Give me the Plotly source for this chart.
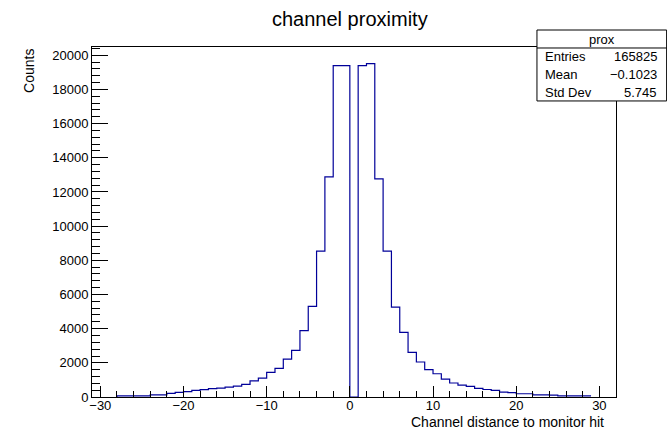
import plotly.graph_objects as go

# ---- data ----
bin_low_edges = list(range(-28, 29))  # bins [k, k+1)
counts = [
    60, 60, 60, 60, 120, 120, 210, 270, 310, 390,      # -28 .. -19
    430, 490, 520, 580, 640, 740, 940, 1110, 1440, 1670,  # -18 .. -9
    2220, 2730, 3880, 5300, 8540, 12880, 19390, 19390,  # -8 .. -1
    0,                                                  # 0
    19390, 19510, 12770, 8540, 5260, 3780, 2610, 2050, 1600, 1360,  # 1 .. 10
    1050, 820, 700, 620, 500, 440, 390, 280, 260, 190,  # 11 .. 20
    190, 130, 130, 115, 60, 60, 60, 60,                 # 21 .. 28
]
stat_labels = ["Entries", "Mean", "Std Dev"]
stat_values = ["165825", "\u22120.1023", "5.745"]
hist_name = "prox"
title_text = "channel proximity"
x_title = "Channel distance to monitor hit"
y_title = "Counts"
x_range = [-31, 32]
y_range = [0, 1.05 * max(counts)]

# ---- geometry helpers (pixels -> paper) ----
W, H = 667, 431
L, R, T, B = 92, 615.7, 47, 397.3


def px(xp):
    return (xp - L) / (R - L)


def py(yp):
    return (B - yp) / (B - T)


FONT = "Liberation Sans, Arial, Helvetica, sans-serif"
BLUE = "#000099"

xs = [bin_low_edges[0]] + bin_low_edges + [bin_low_edges[-1] + 1]
ys = [0] + counts + [counts[-1]]

fig = go.Figure()
fig.add_trace(go.Scatter(
    x=xs, y=ys, mode="lines", line=dict(shape="hv", color=BLUE, width=1.2),
    hoverinfo="skip", showlegend=False,
))

axis_common = dict(
    showline=True, linecolor="black", linewidth=1, mirror=True,
    ticks="inside", tickcolor="black", tickwidth=1,
    showgrid=False, zeroline=False,
    tickfont=dict(family=FONT, size=13, color="black"),
    tickformat="d",
)

fig.update_xaxes(
    range=x_range, tick0=0, dtick=10, ticklen=11, ticklabelstandoff=-4,
    minor=dict(dtick=2, tick0=0, ticklen=6, ticks="inside", tickcolor="black", showgrid=False),
    **axis_common,
)
fig.update_yaxes(
    range=y_range, tick0=0, dtick=2000, ticklen=16,
    minor=dict(dtick=400, tick0=0, ticklen=8, ticks="inside", tickcolor="black", showgrid=False),
    **axis_common,
)

shapes = [
    dict(type="rect", xref="paper", yref="paper",
         x0=px(536.7), x1=px(666.3), y0=py(101), y1=py(30),
         line=dict(color="black", width=1), fillcolor="white", layer="above"),
    dict(type="line", xref="paper", yref="paper",
         x0=px(536.7), x1=px(666.3), y0=py(48), y1=py(48),
         line=dict(color="black", width=1), layer="above"),
]

annotations = [
    dict(text=title_text, x=px(349.5), y=py(19), xref="paper", yref="paper",
         xanchor="center", yanchor="middle", showarrow=False,
         font=dict(family=FONT, size=20, color="black")),
    dict(text=x_title, x=px(606), y=py(422.5), xref="paper", yref="paper",
         xanchor="right", yanchor="middle", showarrow=False,
         font=dict(family=FONT, size=14, color="black")),
    dict(text=y_title, x=px(29), y=py(47), xref="paper", yref="paper",
         xanchor="center", yanchor="top", textangle=-90, showarrow=False,
         font=dict(family=FONT, size=14, color="black")),
    dict(text=hist_name, x=px(601.5), y=py(39), xref="paper", yref="paper",
         xanchor="center", yanchor="middle", showarrow=False,
         font=dict(family=FONT, size=13, color="black")),
]
row_y = [57, 75, 92.5]
for lab, val, yy in zip(stat_labels, stat_values, row_y):
    annotations.append(dict(text=lab, x=px(542.5), y=py(yy), xref="paper", yref="paper",
                            xanchor="left", yanchor="middle", showarrow=False,
                            font=dict(family=FONT, size=13, color="black")))
    annotations.append(dict(text=val, x=px(658.5), y=py(yy), xref="paper", yref="paper",
                            xanchor="right", yanchor="middle", showarrow=False,
                            font=dict(family=FONT, size=13, color="black")))

fig.update_layout(
    width=W, height=H,
    margin=dict(l=L, r=W - R, t=T, b=H - B, pad=0),
    paper_bgcolor="white", plot_bgcolor="white",
    shapes=shapes, annotations=annotations,
    showlegend=False,
)

fig.write_html(
    "out.html", include_plotlyjs=True, config={"displayModeBar": False},
    post_script="document.body.style.margin='0px';document.body.style.overflow='hidden';",
)
